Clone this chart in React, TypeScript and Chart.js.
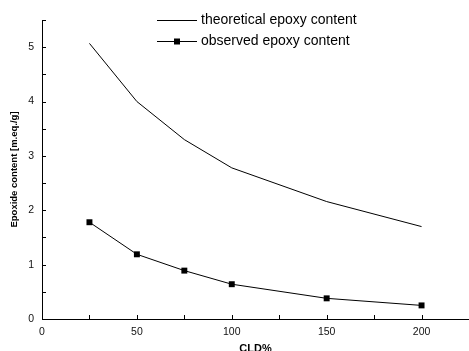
import React, { useEffect, useRef } from "react";
import { Chart, registerables } from "chart.js";

Chart.register(...registerables);

const cld = [25, 50, 75, 100, 150, 200];
const theoretical = [5.07, 4.0, 3.3, 2.78, 2.16, 1.7];
const observed = [1.78, 1.19, 0.89, 0.64, 0.38, 0.25];
const legendLabels = ["theoretical epoxy content", "observed epoxy content"];
const xTitle = "CLD%";
const yTitle = "Epoxide content [m.eq./g]";

const innerTicks = {
  id: "innerTicks",
  afterDraw(chart: any) {
    const ctx = chart.ctx;
    const x = chart.scales.x;
    const y = chart.scales.y;
    const area = chart.chartArea;
    ctx.save();
    ctx.strokeStyle = "#000";
    ctx.lineWidth = 1;
    ctx.beginPath();
    x.ticks.forEach((t: any) => {
      const px = Math.round(x.getPixelForValue(t.value)) + 0.5;
      if (t.value === 0) return;
      ctx.moveTo(px, area.bottom);
      ctx.lineTo(px, area.bottom - 4);
    });
    y.ticks.forEach((t: any) => {
      const py = Math.round(y.getPixelForValue(t.value)) + 0.5;
      if (t.value === 0) return;
      ctx.moveTo(area.left, py);
      ctx.lineTo(area.left + 4, py);
    });
    ctx.stroke();
    ctx.restore();
  },
};

const customLegend = {
  id: "customLegend",
  afterDraw(chart: any) {
    const ctx = chart.ctx;
    ctx.save();
    ctx.font = "14px Arial, 'Liberation Sans', sans-serif";
    ctx.fillStyle = "#000";
    ctx.textBaseline = "middle";
    ctx.strokeStyle = "#000";
    ctx.lineWidth = 1;
    const rows = [20.5, 41.5];
    legendLabels.forEach((label, i) => {
      const yy = rows[i];
      ctx.beginPath();
      ctx.moveTo(157, yy);
      ctx.lineTo(197, yy);
      ctx.stroke();
      if (i === 1) {
        ctx.fillRect(174, yy - 3, 6, 6);
      }
      ctx.fillText(label, 201, yy);
    });
    ctx.restore();
  },
};

export default function App() {
  const ref = useRef<HTMLCanvasElement>(null);
  useEffect(() => {
    if (!ref.current) return;
    const chart = new Chart(ref.current, {
      type: "line",
      data: {
        datasets: [
          {
            label: legendLabels[0],
            data: cld.map((c, i) => ({ x: c, y: theoretical[i] })),
            borderColor: "#000",
            borderWidth: 1,
            pointRadius: 0,
            tension: 0,
          },
          {
            label: legendLabels[1],
            data: cld.map((c, i) => ({ x: c, y: observed[i] })),
            borderColor: "#000",
            backgroundColor: "#000",
            borderWidth: 1,
            pointStyle: "rect",
            pointRadius: 4.2,
            pointBorderWidth: 0,
            pointBackgroundColor: "#000",
            tension: 0,
          },
        ],
      },
      options: {
        animation: false,
        responsive: false,
        maintainAspectRatio: false,
        layout: { autoPadding: false, padding: { top: 20, right: -3, left: 0, bottom: 0 } },
        plugins: { legend: { display: false }, tooltip: { enabled: false } },
        scales: {
          x: {
            type: "linear",
            min: 0,
            max: 225,
            grid: { display: false, drawTicks: false },
            border: { display: true, color: "#000", width: 1 },
            ticks: {
              stepSize: 25,
              autoSkip: false,
              maxRotation: 0,
              padding: 7,
              color: "#111",
              font: { family: "Arial, 'Liberation Sans', sans-serif", size: 10.5 },
              callback: (v: any) => (Number(v) % 50 === 0 ? String(v) : ""),
            },
            title: {
              display: true,
              text: xTitle,
              color: "#000",
              font: { family: "Arial, 'Liberation Sans', sans-serif", size: 11, weight: "bold" },
              padding: { top: 0, bottom: -5 },
            },
            afterFit: (s: any) => {
              s.height = 32;
              s.paddingRight = 0;
              s.paddingLeft = 0;
            },
          },
          y: {
            type: "linear",
            min: 0,
            max: 5.5,
            grid: { display: false, drawTicks: false },
            border: { display: true, color: "#000", width: 1 },
            ticks: {
              stepSize: 0.5,
              autoSkip: false,
              padding: 8,
              color: "#111",
              font: { family: "Arial, 'Liberation Sans', sans-serif", size: 10.5 },
              callback: (v: any) => (Number(v) % 1 === 0 ? String(v) : ""),
            },
            title: {
              display: true,
              text: yTitle,
              color: "#000",
              font: { family: "Arial, 'Liberation Sans', sans-serif", size: 9.5, weight: "bold" },
              padding: { top: 9, bottom: 0 },
            },
            afterFit: (s: any) => {
              s.width = 42;
              s.paddingTop = 0;
              s.paddingBottom = 0;
            },
          },
        },
      },
      plugins: [innerTicks, customLegend],
    } as any);
    return () => chart.destroy();
  }, []);
  return (
    <div style={{ position: "fixed", left: 0, top: 0, width: 469, height: 351, background: "#fff" }}>
      <canvas ref={ref} width={469} height={351} style={{ width: 469, height: 351 }} />
    </div>
  );
}
